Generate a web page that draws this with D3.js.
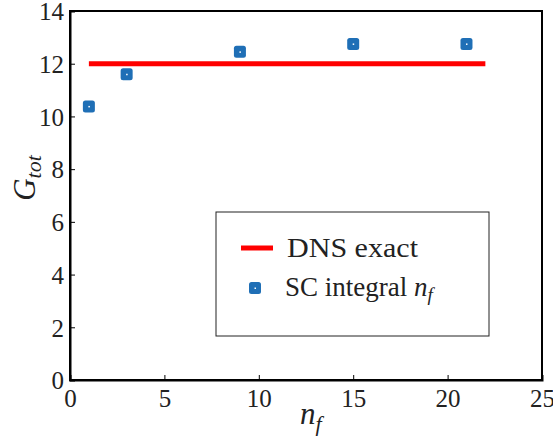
<!DOCTYPE html>
<html><head><meta charset="utf-8">
<script src="https://cdn.jsdelivr.net/npm/d3@7"></script>
</head><body style="margin:0;background:#fff">
<script>
const nf = [1, 3, 9, 15, 21];
const gtot = [10.38, 11.6, 12.45, 12.75, 12.75];
const dnsX = [1, 22];
const dnsY = [12, 12];
const xTicks = [0, 5, 10, 15, 20, 25];
const yTicks = [0, 2, 4, 6, 8, 10, 12, 14];

const SERIF = "'Liberation Serif', 'Times New Roman', Tinos, FreeSerif, serif";
const W = 553, H = 437;
const svg = d3.select("body").append("svg").attr("width", W).attr("height", H)
  .style("display", "block").style("font-family", SERIF);
function serif(sel, size) {
  return sel.style("font-family", SERIF).style("font-size", size + "px").attr("fill", "#222");
}
const x = d3.scaleLinear().domain([0, 25]).range([70, 542]);
const y = d3.scaleLinear().domain([0, 14]).range([380, 11]);

svg.append("rect").attr("x", x(0)).attr("y", y(14)).attr("width", x(25) - x(0)).attr("height", y(0) - y(14))
  .attr("fill", "none").attr("stroke", "#000").attr("stroke-width", 2);

const xa = svg.append("g").attr("transform", `translate(0,${y(0)})`)
  .call(d3.axisBottom(x).tickValues(xTicks).tickSize(-5).tickFormat(d3.format("d")));
const ya = svg.append("g").attr("transform", `translate(${x(0)},0)`)
  .call(d3.axisLeft(y).tickValues(yTicks).tickSize(-5).tickFormat(d3.format("d")));
[xa, ya].forEach(a => {
  a.attr("font-family", null).attr("font-size", null);
  a.select(".domain").attr("stroke", "#000").attr("stroke-width", 2);
  a.selectAll(".tick line").attr("stroke", "#000").attr("stroke-width", 1);
  serif(a.selectAll("text"), 25);
});
xa.selectAll("text").attr("y", 27).attr("dy", 0);
ya.selectAll("text").attr("x", -6).attr("dy", "0.35em");

const line = d3.line().x(d => x(d[0])).y(d => y(d[1]));
svg.append("path").datum(d3.zip(dnsX, dnsY)).attr("d", line)
  .attr("stroke", "#ff0000").attr("stroke-width", 5).attr("fill", "none");

function marker(g, cx, cy) {
  g.append("rect").attr("x", cx - 6).attr("y", cy - 6).attr("width", 12).attr("height", 12)
    .attr("rx", 2.5).attr("fill", "#1f6fb6");
  g.append("rect").attr("x", cx - 0.5).attr("y", cy - 0.5).attr("width", 1.5).attr("height", 1.5).attr("fill", "#fff");
}
const mg = svg.append("g");
nf.forEach((v, i) => marker(mg, x(v), y(gtot[i])));

const xl = serif(svg.append("text").attr("x", 300).attr("y", 424), 31).style("font-style", "italic");
xl.append("tspan").text("n");
xl.append("tspan").attr("dy", 7).style("font-size", "22px").text("f");

const yl = serif(svg.append("text").attr("transform", "translate(35,178) rotate(-90)").attr("text-anchor", "middle"), 31)
  .style("font-style", "italic");
yl.append("tspan").text("G");
yl.append("tspan").attr("dy", 6).style("font-size", "22px").text("tot");

svg.append("rect").attr("x", 216).attr("y", 212).attr("width", 273).attr("height", 124)
  .attr("fill", "#fff").attr("stroke", "#222").attr("stroke-width", 1);
svg.append("line").attr("x1", 241).attr("x2", 273).attr("y1", 248).attr("y2", 248)
  .attr("stroke", "#ff0000").attr("stroke-width", 5);
serif(svg.append("text").attr("x", 287).attr("y", 257), 27)
  .attr("textLength", 131).attr("lengthAdjust", "spacingAndGlyphs").text("DNS exact");
marker(svg, 255, 288);
const l2 = serif(svg.append("text").attr("x", 285).attr("y", 296), 27);
l2.append("tspan").text("SC integral ");
l2.append("tspan").style("font-style", "italic").text("n");
l2.append("tspan").attr("dy", 5).style("font-size", "19px").style("font-style", "italic").text("f");
</script>
</body></html>
